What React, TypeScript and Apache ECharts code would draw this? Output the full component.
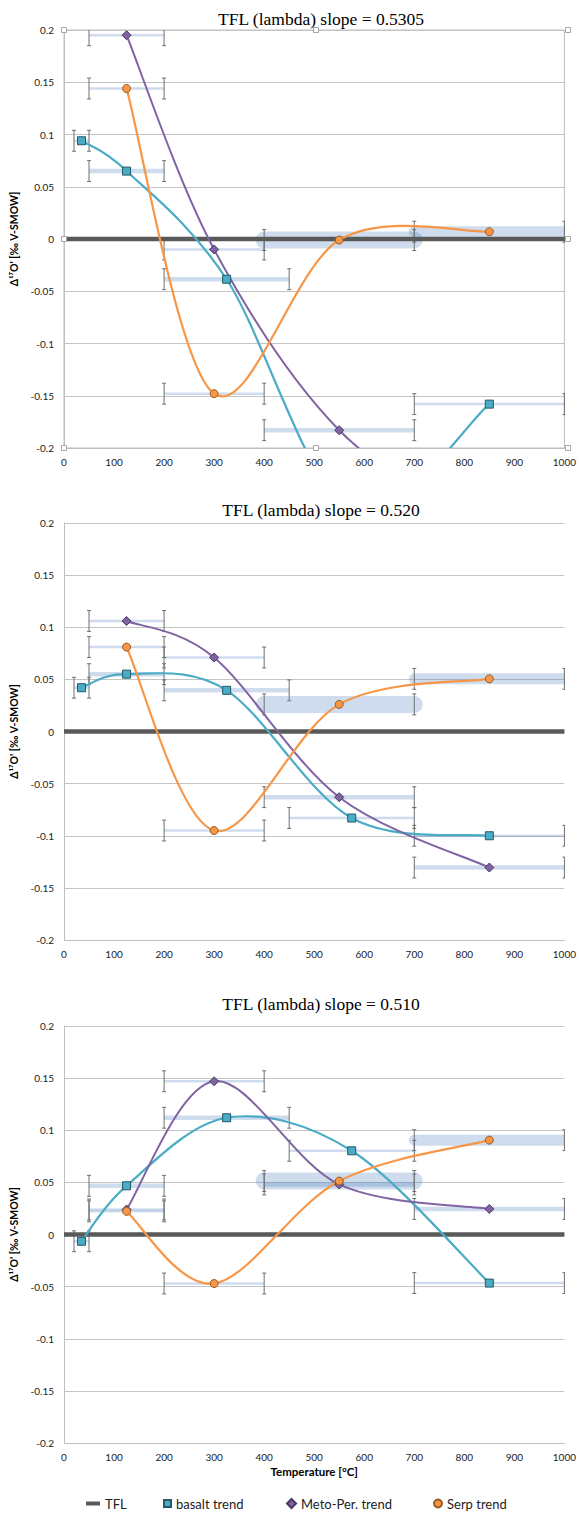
import React, { useEffect, useRef } from "react";
import * as echarts from "echarts";

// ---------- data ----------
const TITLES = [
  "TFL (lambda) slope = 0.5305",
  "TFL (lambda) slope = 0.520",
  "TFL (lambda) slope = 0.510",
];

const X_TICKS = [0, 100, 200, 300, 400, 500, 600, 700, 800, 900, 1000];

const TFL_LINE = [
  [0, 0],
  [1000, 0],
];

// temperature of each point and the temperature range it stands for
const BASALT_TEMP = [35, 125, 325, 575, 850];
const BASALT_RANGE = [
  [20, 50],
  [50, 200],
  [200, 450],
  [450, 700],
  [700, 1000],
];
const TREND_TEMP = [125, 300, 550, 850];
const TREND_RANGE = [
  [50, 200],
  [200, 400],
  [400, 700],
  [700, 1000],
];
const D17O_ERR = 0.01;

// slope 0.5305
const BASALT_5305 = [0.094, 0.065, -0.0385, -0.261, -0.158];
const METO_5305 = [0.195, -0.01, -0.183, -0.28];
const SERP_5305 = [0.144, -0.148, -0.001, 0.007];

// slope 0.520
const BASALT_520 = [0.042, 0.055, 0.0395, -0.083, -0.1];
const METO_520 = [0.106, 0.071, -0.063, -0.1305];
const SERP_520 = [0.081, -0.095, 0.026, 0.0505];

// slope 0.510
const BASALT_510 = [-0.0065, 0.0467, 0.112, 0.0803, -0.0466];
const METO_510 = [0.024, 0.147, 0.048, 0.0245];
const SERP_510 = [0.0222, -0.047, 0.0513, 0.0905];

// band style class for each point's range
const BASALT_BAND = ["thin", "mid", "mid", "thin", "thin"];
const METO_BAND = ["thin", "thin", "mid", "mid"];
const SERP_BAND = ["thin", "thin", "fat", "wide"];

// ---------- styles / layout ----------
const BAND_WIDTH: Record<string, number> = { thin: 2.5, mid: 4.5, wide: 11, fat: 17 };
const BAND_COLOR = "rgba(79,129,189,0.28)";
const WHISKER_COLOR = "#6f6f6f";
const C_TFL = "#595959";
const C_BASALT = "#4bacc6";
const C_METO = "#8064a2";
const C_SERP = "#f79646";

const GRID_LEFT = 64;
const GRID_WIDTH = 504;
const GRID_TOPS = [30, 523, 1026];
const GRID_HEIGHTS = [418, 417, 417];
const TITLE_TOPS = [5, 496, 990];
const SANS = "Lato";
const SERIF = "Liberation Serif";

const charts = [
  { title: TITLES[0], basalt: BASALT_5305, meto: METO_5305, serp: SERP_5305 },
  { title: TITLES[1], basalt: BASALT_520, meto: METO_520, serp: SERP_520 },
  { title: TITLES[2], basalt: BASALT_510, meto: METO_510, serp: SERP_510 },
];

function pairs(temps: number[], vals: number[]) {
  return temps.map((t, i) => [t, vals[i]]);
}

function ranges(temps: number[][], vals: number[], kinds: string[]) {
  return vals.map((v, i) => ({ x1: temps[i][0], x2: temps[i][1], y: v, kind: kinds[i] }));
}

function rangeSeries(items: { x1: number; x2: number; y: number; kind: string }[], gi: number) {
  return {
    type: "custom",
    xAxisIndex: gi,
    yAxisIndex: gi,
    clip: true,
    silent: true,
    z: 1,
    encode: { x: [0, 1], y: 2 },
    data: items.map((r) => [r.x1, r.x2, r.y, D17O_ERR]),
    renderItem: (params: any, api: any) => {
      const x1 = api.value(0);
      const x2 = api.value(1);
      const y = api.value(2);
      const e = api.value(3);
      const kind = items[params.dataIndex].kind;
      const w = BAND_WIDTH[kind];
      const a = api.coord([x1, y]);
      const b = api.coord([x2, y]);
      const children: any[] = [
        {
          type: "line",
          shape: { x1: a[0], y1: a[1], x2: b[0], y2: b[1] },
          style: {
            stroke: BAND_COLOR,
            lineWidth: w,
            lineCap: w > 8 ? "round" : "butt",
          },
        },
      ];
      [x1, x2].forEach((x) => {
        const t = api.coord([x, y + e]);
        const bt = api.coord([x, y - e]);
        const s = { stroke: WHISKER_COLOR, lineWidth: 1 };
        children.push(
          { type: "line", shape: { x1: t[0], y1: t[1], x2: bt[0], y2: bt[1] }, style: s },
          { type: "line", shape: { x1: t[0] - 2, y1: t[1], x2: t[0] + 2, y2: t[1] }, style: s },
          { type: "line", shape: { x1: bt[0] - 2, y1: bt[1], x2: bt[0] + 2, y2: bt[1] }, style: s }
        );
      });
      return { type: "group", children };
    },
  };
}

// Spreadsheet-style smoothed trend line: Catmull-Rom Bezier between the data points
function curveSeries(pts: number[][], gi: number, color: string, width: number) {
  const n = pts.length;
  return {
    type: "custom",
    xAxisIndex: gi,
    yAxisIndex: gi,
    clip: true,
    silent: true,
    z: 3,
    encode: { x: 0, y: 1 },
    data: pts,
    renderItem: (params: any, api: any) => {
      const i = params.dataIndex;
      if (i >= n - 1) return { type: "group", children: [] };
      const P = (k: number) => api.coord(pts[Math.max(0, Math.min(n - 1, k))]);
      const p0 = P(i - 1);
      const p1 = P(i);
      const p2 = P(i + 1);
      const p3 = P(i + 2);
      return {
        type: "bezierCurve",
        shape: {
          x1: p1[0],
          y1: p1[1],
          x2: p2[0],
          y2: p2[1],
          cpx1: p1[0] + (p2[0] - p0[0]) / 6,
          cpy1: p1[1] + (p2[1] - p0[1]) / 6,
          cpx2: p2[0] - (p3[0] - p1[0]) / 6,
          cpy2: p2[1] - (p3[1] - p1[1]) / 6,
        },
        style: { stroke: color, lineWidth: width, fill: "none" },
      };
    },
  };
}

function markerSeries(name: string, pts: number[][], gi: number, color: string, border: string, symbol: string, size: number) {
  return {
    name,
    type: "line",
    xAxisIndex: gi,
    yAxisIndex: gi,
    data: pts,
    symbol,
    symbolSize: size,
    z: 4,
    color,
    lineStyle: { color, width: 2, opacity: 0 },
    itemStyle: { color, borderColor: border, borderWidth: 1 },
  };
}

function buildOption() {
  const grid: any[] = [];
  const xAxis: any[] = [];
  const yAxis: any[] = [];
  const title: any[] = [];
  const series: any[] = [];

  charts.forEach((c, gi) => {
    grid.push({
      left: GRID_LEFT,
      top: GRID_TOPS[gi],
      width: GRID_WIDTH,
      height: GRID_HEIGHTS[gi],
      show: gi === 0,
      borderColor: "#bfbfbf",
      borderWidth: 1,
    });
    title.push({
      text: c.title,
      left: GRID_LEFT + GRID_WIDTH / 2,
      textAlign: "center",
      top: TITLE_TOPS[gi],
      textStyle: { fontFamily: SERIF, fontSize: 17.5, fontWeight: "normal", color: "#000" },
    });
    xAxis.push({
      type: "value",
      gridIndex: gi,
      min: X_TICKS[0],
      max: X_TICKS[X_TICKS.length - 1],
      interval: 100,
      axisLine: { show: true, onZero: false, lineStyle: { color: "#bfbfbf", width: 1 } },
      axisTick: { show: false },
      splitLine: { show: false },
      axisLabel: {
        fontFamily: SANS,
        fontSize: 10,
        color: "#222",
        margin: 9,
        formatter: (v: number) => String(v),
      },
      name: gi === 2 ? "Temperature [°C]" : "",
      nameLocation: "middle",
      nameGap: 22,
      nameTextStyle: { fontFamily: SANS, fontSize: 11.5, fontWeight: "bold", color: "#000" },
    });
    yAxis.push({
      type: "value",
      gridIndex: gi,
      min: -0.2,
      max: 0.2,
      interval: 0.05,
      axisLine: { show: true, lineStyle: { color: "#bfbfbf", width: 1 } },
      axisTick: { show: false },
      splitLine: { show: true, lineStyle: { color: "#c4c4c4", width: 1 } },
      axisLabel: { fontFamily: SANS, fontSize: 10, color: "#222", margin: 10 },
      name: "Δ¹⁷O' [‰ V-SMOW]",
      nameLocation: "middle",
      nameRotate: 90,
      nameGap: 40,
      nameTextStyle: { fontFamily: SANS, fontSize: 10.5, fontWeight: "bold", color: "#000" },
    });

    const basalt = pairs(BASALT_TEMP, c.basalt);
    const meto = pairs(TREND_TEMP, c.meto);
    const serp = pairs(TREND_TEMP, c.serp);

    series.push(rangeSeries(ranges(BASALT_RANGE, c.basalt, BASALT_BAND), gi));
    series.push(rangeSeries(ranges(TREND_RANGE, c.meto, METO_BAND), gi));
    series.push(rangeSeries(ranges(TREND_RANGE, c.serp, SERP_BAND), gi));

    series.push({
      name: "TFL",
      type: "line",
      xAxisIndex: gi,
      yAxisIndex: gi,
      data: TFL_LINE,
      symbol: "none",
      z: 2,
      color: C_TFL,
      lineStyle: { color: C_TFL, width: 4.5 },
    });

    series.push(curveSeries(basalt, gi, C_BASALT, 2.2));
    series.push(curveSeries(meto, gi, C_METO, 2));
    series.push(curveSeries(serp, gi, C_SERP, 2.2));

    series.push(markerSeries("basalt trend", basalt, gi, C_BASALT, "#24596a", "rect", 8));
    series.push(markerSeries("Meto-Per. trend", meto, gi, C_METO, "#4a3866", "diamond", 9));
    series.push(markerSeries("Serp trend", serp, gi, C_SERP, "#9a5a22", "circle", 8));
  });

  // plot-area selection handles of the first chart
  const g0 = { l: GRID_LEFT, t: GRID_TOPS[0], w: GRID_WIDTH, h: GRID_HEIGHTS[0] };
  const handlePts = [
    [0, 0], [0.5, 0], [1, 0], [0, 0.5], [1, 0.5], [0, 1], [0.5, 1], [1, 1],
  ];
  const graphic = handlePts.map(([fx, fy]) => ({
    type: "rect",
    shape: { x: g0.l + fx * g0.w - 2.5, y: g0.t + fy * g0.h - 2.5, width: 5, height: 5 },
    style: { fill: "#fff", stroke: "#a6a6a6", lineWidth: 1 },
    z: 10,
  }));

  const legendText = { fontFamily: SANS, fontSize: 13, color: "#222" };
  const legend = [
    { data: [{ name: "TFL", icon: "rect" }], left: 86, itemWidth: 14, itemHeight: 4 },
    { data: [{ name: "basalt trend", icon: "rect" }], left: 163, itemWidth: 7, itemHeight: 7 },
    { data: [{ name: "Meto-Per. trend", icon: "diamond" }], left: 286, itemWidth: 9, itemHeight: 9 },
    { data: [{ name: "Serp trend", icon: "circle" }], left: 433, itemWidth: 8, itemHeight: 8 },
  ].map((l) => ({
    ...l,
    top: 1497,
    itemGap: 0,
    selectedMode: false,
    textStyle: legendText,
    padding: 0,
  }));

  return {
    animation: false,
    backgroundColor: "#ffffff",
    title,
    grid,
    xAxis,
    yAxis,
    legend,
    series,
    graphic,
  };
}

export default function App() {
  const ref = useRef<HTMLDivElement>(null);
  useEffect(() => {
    if (!ref.current) return;
    const chart = echarts.init(ref.current, undefined, { renderer: "svg" });
    chart.setOption(buildOption() as any);
    return () => chart.dispose();
  }, []);
  return (
    <div
      ref={ref}
      style={{ position: "absolute", left: 0, top: 0, width: 579, height: 1513 }}
    />
  );
}
